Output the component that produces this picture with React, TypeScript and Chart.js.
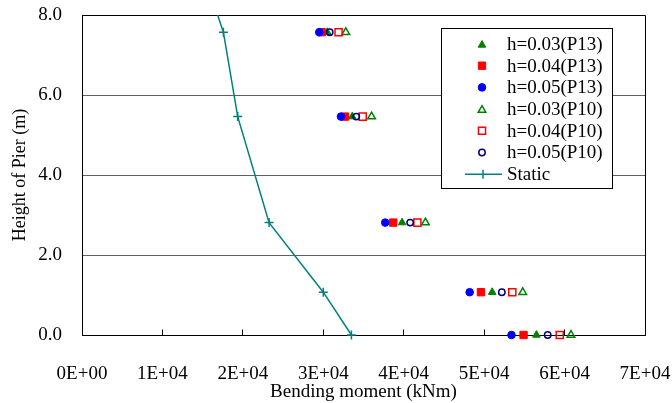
import React, { useEffect, useRef } from 'react';
import { Chart, registerables } from 'chart.js';

Chart.register(...registerables);

// ---- data ----
const heights = [0, 1.07, 2.81, 5.46, 7.57];
const p13h003 = [56500, 51000, 39800, 33600, 30500];
const p13h004 = [54900, 49600, 38700, 32700, 29800];
const p13h005 = [53400, 48200, 37700, 32200, 29500];
const p10h003 = [60800, 54800, 42700, 36000, 32800];
const p10h004 = [59400, 53500, 41700, 34900, 31900];
const p10h005 = [57900, 52200, 40800, 34100, 30800];
const staticHeights = [0, 1.07, 2.81, 5.46, 7.57, 8.3];
const staticMoments = [33500, 30000, 23260, 19360, 17580, 16360];
const seriesLabels = ['h=0.03(P13)', 'h=0.04(P13)', 'h=0.05(P13)', 'h=0.03(P10)', 'h=0.04(P10)', 'h=0.05(P10)', 'Static'];
const xTicks = [0, 10000, 20000, 30000, 40000, 50000, 60000, 70000];
const yTicks = [0, 2, 4, 6, 8];
const xTitle = 'Bending moment (kNm)';
const yTitle = 'Height of Pier (m)';

// ---- styles ----
type Mk = { style: string; color: string; fill: boolean; r: number; lw: number };
const markerStyles: Mk[] = [
  { style: 'triangle', color: '#008000', fill: true, r: 4.4, lw: 1 },
  { style: 'rect', color: '#FF0000', fill: true, r: 5.2, lw: 1 },
  { style: 'circle', color: '#0000FF', fill: true, r: 3.8, lw: 1 },
  { style: 'triangle', color: '#008000', fill: false, r: 4.4, lw: 1.5 },
  { style: 'rect', color: '#FF0000', fill: false, r: 5.0, lw: 1.5 },
  { style: 'circle', color: '#000080', fill: false, r: 3.2, lw: 1.5 },
];
const staticColor = '#008080';

function formatSci(v: number): string {
  if (v === 0) return '0E+00';
  const e = Math.floor(Math.log10(Math.abs(v)));
  const m = Math.round(v / Math.pow(10, e));
  return `${m}E${e >= 0 ? '+' : '-'}${String(Math.abs(e)).padStart(2, '0')}`;
}

function align(p: number, w = 1) {
  const h = w / 2;
  return Math.round(p - h) + h;
}

function drawMarker(ctx: CanvasRenderingContext2D, m: Mk, x: number, y: number) {
  ctx.save();
  ctx.beginPath();
  ctx.lineWidth = m.lw;
  ctx.strokeStyle = m.color;
  ctx.fillStyle = m.color;
  const r = m.r;
  if (m.style === 'circle') {
    ctx.arc(x, y, r, 0, Math.PI * 2);
  } else if (m.style === 'rect') {
    const s = Math.SQRT1_2 * r;
    ctx.rect(x - s, y - s, 2 * s, 2 * s);
  } else if (m.style === 'triangle') {
    let rad = 0;
    ctx.moveTo(x + Math.sin(rad) * r, y - Math.cos(rad) * r);
    rad += (2 * Math.PI) / 3;
    ctx.lineTo(x + Math.sin(rad) * r, y - Math.cos(rad) * r);
    rad += (2 * Math.PI) / 3;
    ctx.lineTo(x + Math.sin(rad) * r, y - Math.cos(rad) * r);
    ctx.closePath();
  }
  if (m.fill) ctx.fill();
  ctx.stroke();
  ctx.restore();
}

const framePlugin = {
  id: 'frame',
  beforeDatasetsDraw(chart: any) {
    const { ctx, chartArea: a, scales } = chart;
    ctx.save();
    ctx.strokeStyle = '#000';
    ctx.lineWidth = 1;
    ctx.beginPath();
    const L = align(a.left), R = align(a.right), T = align(a.top), B = align(a.bottom);
    ctx.moveTo(L, T);
    ctx.lineTo(R, T);
    ctx.lineTo(R, B);
    ctx.stroke();
    // inner tick marks on x axis
    ctx.beginPath();
    xTicks.forEach((v) => {
      const px = align(scales.x.getPixelForValue(v));
      ctx.moveTo(px, B);
      ctx.lineTo(px, B - 6);
    });
    ctx.stroke();
    ctx.restore();
  },
  afterDraw(chart: any) {
    const ctx: CanvasRenderingContext2D = chart.ctx;
    const bx = 441, by = 28, bw = 171, bh = 160;
    ctx.save();
    ctx.fillStyle = '#fff';
    ctx.fillRect(bx, by, bw, bh);
    ctx.strokeStyle = '#000';
    ctx.lineWidth = 1;
    ctx.strokeRect(bx + 0.5, by + 0.5, bw, bh);
    ctx.font = '19px "Liberation Serif", "Times New Roman", serif';
    ctx.fillStyle = '#000';
    ctx.textBaseline = 'middle';
    ctx.textAlign = 'left';
    const rowH = 21.7;
    seriesLabels.forEach((lab, i) => {
      const cy = by + 16 + i * rowH;
      if (i < markerStyles.length) {
        drawMarker(ctx, markerStyles[i], 482, cy + (markerStyles[i].style === 'triangle' ? 1 : 0));
      } else {
        ctx.save();
        ctx.strokeStyle = staticColor;
        ctx.lineWidth = 1.5;
        ctx.beginPath();
        ctx.moveTo(465, cy);
        ctx.lineTo(502, cy);
        ctx.moveTo(483, cy - 4.5);
        ctx.lineTo(483, cy + 4.5);
        ctx.stroke();
        ctx.restore();
      }
      ctx.fillStyle = '#000';
      ctx.fillText(lab, 507, cy + 1);
    });
    ctx.restore();
  },
};

export default function App() {
  const ref = useRef<HTMLCanvasElement | null>(null);

  useEffect(() => {
    if (!ref.current) return;
    Chart.defaults.font.family = '"Liberation Serif", "Times New Roman", serif';
    Chart.defaults.font.size = 19;
    Chart.defaults.color = '#000';

    const seriesValues = [p13h003, p13h004, p13h005, p10h003, p10h004, p10h005];
    const datasets: any[] = seriesValues.map((vals, i) => {
      const m = markerStyles[i];
      return {
        label: seriesLabels[i],
        data: vals.map((v, j) => ({ x: v, y: heights[j] })),
        showLine: false,
        pointStyle: m.style,
        pointRadius: m.r,
        pointBorderWidth: m.lw,
        pointBorderColor: m.color,
        pointBackgroundColor: m.fill ? m.color : 'rgba(0,0,0,0)',
        order: 10 - i,
        clip: false,
      };
    });
    datasets.push({
      label: seriesLabels[6],
      data: staticMoments.map((v, j) => ({ x: v, y: staticHeights[j] })),
      showLine: true,
      borderColor: staticColor,
      borderWidth: 1.5,
      pointStyle: 'cross',
      pointRadius: 4.5,
      pointBorderWidth: 1.5,
      pointBorderColor: staticColor,
      order: 0,
      clip: { left: false, top: 0, right: false, bottom: false },
    });

    const chart = new Chart(ref.current, {
      type: 'scatter',
      data: { datasets },
      options: {
        animation: false,
        responsive: false,
        events: [],
        layout: { padding: { left: 0, top: 15, right: 27, bottom: 0 } },
        plugins: { legend: { display: false }, tooltip: { enabled: false } },
        scales: {
          x: {
            type: 'linear',
            min: 0,
            max: 70000,
            afterBuildTicks: (s: any) => {
              s.ticks = xTicks.map((v) => ({ value: v }));
            },
            ticks: {
              callback: (v: any) => formatSci(Number(v)),
              padding: 28,
              maxRotation: 0,
              autoSkip: false,
              color: '#000',
              font: { size: 19 },
            },
            grid: { display: false, drawTicks: false },
            border: { display: true, color: '#000', width: 1 },
            title: { display: true, text: xTitle, color: '#000', font: { size: 19 }, padding: { top: 0, bottom: 0 } },
            afterFit: (s: any) => {
              s.height = 68;
              s.paddingLeft = 0;
              s.paddingRight = 0;
              s.paddingTop = 0;
              s.paddingBottom = 0;
            },
          },
          y: {
            type: 'linear',
            min: 0,
            max: 8,
            afterBuildTicks: (s: any) => {
              s.ticks = yTicks.map((v) => ({ value: v }));
            },
            ticks: {
              callback: (v: any) => Number(v).toFixed(1),
              padding: 20,
              color: '#000',
              font: { size: 19 },
            },
            grid: { color: '#606060', drawTicks: false, lineWidth: 1 },
            border: { display: true, color: '#000', width: 1 },
            title: { display: true, text: yTitle, color: '#000', font: { size: 18 }, padding: { top: 9, bottom: 0 } },
            afterFit: (s: any) => {
              s.width = 82;
              s.paddingLeft = 0;
              s.paddingRight = 0;
              s.paddingTop = 0;
              s.paddingBottom = 0;
            },
          },
        },
      },
      plugins: [framePlugin],
    } as any);
    return () => chart.destroy();
  }, []);

  return (
    <div style={{ position: 'absolute', left: 0, top: 0, width: 672, height: 403, background: '#fff' }}>
      <canvas ref={ref} width={672} height={403} style={{ display: 'block' }} />
    </div>
  );
}
